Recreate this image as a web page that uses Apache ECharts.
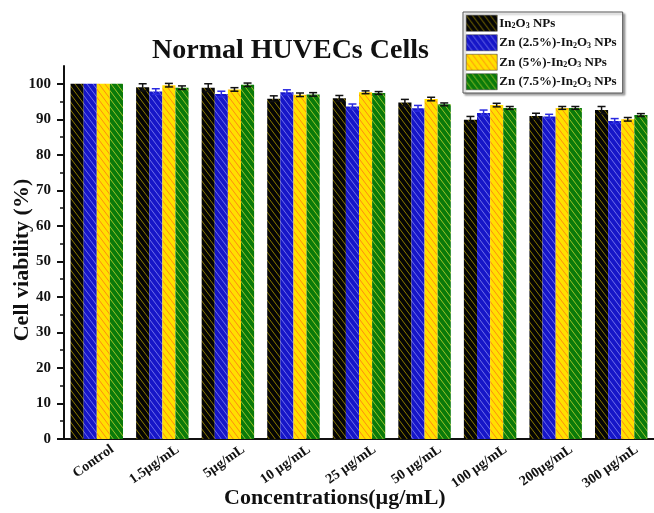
<!DOCTYPE html>
<html>
<head>
<meta charset="utf-8">
<script src="https://cdn.jsdelivr.net/npm/echarts@6/dist/echarts.min.js"></script>
<style>
  html, body { margin: 0; padding: 0; background: #fff; }
  #chart { width: 654px; height: 513px; }
</style>
</head>
<body>
<div id="chart"></div>
<script>
// Concentrations tested
const categories = ['Control', '1.5µg/mL', '5µg/mL', '10 µg/mL', '25 µg/mL', '50 µg/mL', '100 µg/mL', '200µg/mL', '300 µg/mL'];

// Cell viability (%) per sample
const seriesNames = ['In2O3 NPs', 'Zn (2.5%)-In2O3 NPs', 'Zn (5%)-In2O3 NPs', 'Zn (7.5%)-In2O3 NPs'];
const in2o3 = [100, 99.0, 98.9, 95.8, 95.9, 94.7, 89.9, 90.9, 92.6];
const zn25 = [100, 97.8, 97.1, 97.6, 93.6, 93.1, 91.8, 90.8, 89.5];
const zn5 = [100, 99.6, 98.4, 96.9, 97.6, 95.7, 94.0, 93.2, 90.0];
const zn75 = [100, 98.9, 99.7, 97.0, 97.4, 94.2, 93.2, 93.2, 91.2];

// Standard deviations
const in2o3Err = [0, 1.0, 1.1, 0.8, 0.8, 0.9, 0.9, 0.8, 1.0];
const zn25Err = [0, 0.8, 0.8, 0.7, 0.7, 0.8, 0.8, 0.6, 0.7];
const zn5Err = [0, 0.5, 0.5, 0.5, 0.4, 0.5, 0.5, 0.4, 0.5];
const zn75Err = [0, 0.5, 0.5, 0.5, 0.4, 0.4, 0.4, 0.4, 0.4];

const yTicks = [0, 10, 20, 30, 40, 50, 60, 70, 80, 90, 100];

const values = [in2o3, zn25, zn5, zn75];
const errors = [in2o3Err, zn25Err, zn5Err, zn75Err];

// fill colour, stripe colour, error bar colour
const styles = [
  { fill: '#050505', stripe: '#8c7c00', err: '#111' },
  { fill: '#1616c8', stripe: '#7070e8', err: '#2a2ae0' },
  { fill: '#ffe000', stripe: '#ff8a10', err: '#111' },
  { fill: '#0a7a0a', stripe: '#9cc22a', err: '#111' }
];

const FONT = '"Liberation Serif", "Times New Roman", serif';

// Diagonal hatch tile ("\" direction)
function hatch(fill, stripe) {
  const w = 6, h = 8;
  const c = document.createElement('canvas');
  c.width = w; c.height = h;
  const g = c.getContext('2d');
  g.fillStyle = fill;
  g.fillRect(0, 0, w, h);
  g.strokeStyle = stripe;
  g.lineWidth = 1;
  for (let k = -1; k <= 1; k++) {
    g.beginPath();
    g.moveTo(k * w - w, -h);
    g.lineTo(k * w + 2 * w, 2 * h);
    g.stroke();
  }
  return { image: c, repeat: 'repeat' };
}

const barSeries = seriesNames.map((name, i) => ({
  name: name,
  type: 'bar',
  data: values[i],
  barGap: '0%',
  barCategoryGap: '20%',
  itemStyle: { color: hatch(styles[i].fill, styles[i].stripe) }
}));

const errSeries = seriesNames.map((name, i) => ({
  name: 'err' + i,
  type: 'custom',
  data: values[i].map((v, k) => [k, v, errors[i][k]]),
  z: 5,
  silent: true,
  renderItem: function (params, api) {
    const k = api.value(0), v = api.value(1), e = api.value(2);
    if (!e) return null;
    const band = api.size([1, 0])[0];
    const bw = band * 0.8 / 4;
    const cx = api.coord([k, v])[0] + (i - 1.5) * bw;
    const top = api.coord([k, v + e])[1];
    const bot = api.coord([k, v - e])[1];
    const cap = 4;
    const st = { stroke: styles[i].err, lineWidth: 1.5 };
    return {
      type: 'group',
      children: [
        { type: 'line', shape: { x1: cx, y1: top, x2: cx, y2: bot }, style: st },
        { type: 'line', shape: { x1: cx - cap, y1: top, x2: cx + cap, y2: top }, style: st },
        { type: 'line', shape: { x1: cx - cap, y1: bot, x2: cx + cap, y2: bot }, style: st }
      ]
    };
  }
}));

const chart = echarts.init(document.getElementById('chart'), null, { renderer: 'canvas' });

chart.setOption({
  animation: false,
  backgroundColor: '#fff',
  grid: { left: 64, right: 0, top: 66, bottom: 74, containLabel: false },
  title: {
    text: 'Normal HUVECs Cells',
    left: 147,
    top: 32,
    textStyle: { fontFamily: FONT, fontWeight: 'bold', fontSize: 28, color: '#111' }
  },
  legend: {
    data: seriesNames,
    orient: 'vertical',
    left: 463,
    top: 12,
    itemWidth: 31,
    itemHeight: 16,
    itemGap: 3,
    padding: [3, 6, 3, 3],
    icon: 'rect',
    borderColor: '#555',
    borderWidth: 1,
    backgroundColor: '#fff',
    shadowColor: 'rgba(0,0,0,0.35)',
    shadowBlur: 2,
    shadowOffsetX: 2,
    shadowOffsetY: 2,
    itemStyle: { borderColor: '#333', borderWidth: 0.5 },
    formatter: function (name) {
      return name.replace('In2O3', 'In{s|2}O{s|3}');
    },
    textStyle: {
      fontFamily: FONT,
      fontWeight: 'bold',
      fontSize: 13,
      color: '#111',
      padding: [0, 0, 0, -3],
      rich: {
        s: { fontFamily: FONT, fontWeight: 'bold', fontSize: 8, color: '#111', verticalAlign: 'bottom', padding: [6, 0, 0, 0] }
      }
    }
  },
  graphic: [
    {
      type: 'text',
      left: 224,
      top: 487,
      style: { text: 'Concentrations(µg/mL)', font: 'bold 22px ' + FONT, fill: '#111' }
    },
    {
      type: 'text',
      x: 22,
      y: 260,
      rotation: Math.PI / 2,
      style: { text: 'Cell viability (%)', font: 'bold 22px ' + FONT, fill: '#111', align: 'center', verticalAlign: 'middle' }
    }
  ],
  xAxis: [
    {
      type: 'category',
      data: categories,
      axisLine: { lineStyle: { color: '#111', width: 2 } },
      axisTick: { alignWithLabel: true, length: 5, lineStyle: { color: '#111', width: 2 } },
      axisLabel: {
        interval: 0,
        rotate: 35,
        margin: 20,
        padding: [0, -19, 0, 0],
        fontFamily: FONT,
        fontWeight: 'bold',
        fontSize: 14,
        color: '#111'
      }
    },
    {
      type: 'category',
      data: categories,
      position: 'bottom',
      axisLine: { show: false },
      axisTick: { interval: 0, length: 3, lineStyle: { color: '#111', width: 1.5 } },
      axisLabel: { show: false }
    }
  ],
  yAxis: {
    type: 'value',
    min: 0,
    max: 105,
    interval: 10,
    axisLine: { show: true, lineStyle: { color: '#111', width: 2 } },
    axisTick: { show: true, length: 7, customValues: yTicks, lineStyle: { color: '#111', width: 2 } },
    minorTick: { show: true, splitNumber: 2, length: 4, lineStyle: { color: '#111', width: 1.5 } },
    splitLine: { show: false },
    axisLabel: {
      customValues: yTicks,
      margin: 13,
      fontFamily: FONT,
      fontWeight: 'bold',
      fontSize: 15,
      color: '#111'
    }
  },
  series: barSeries.concat(errSeries)
});
</script>
</body>
</html>
